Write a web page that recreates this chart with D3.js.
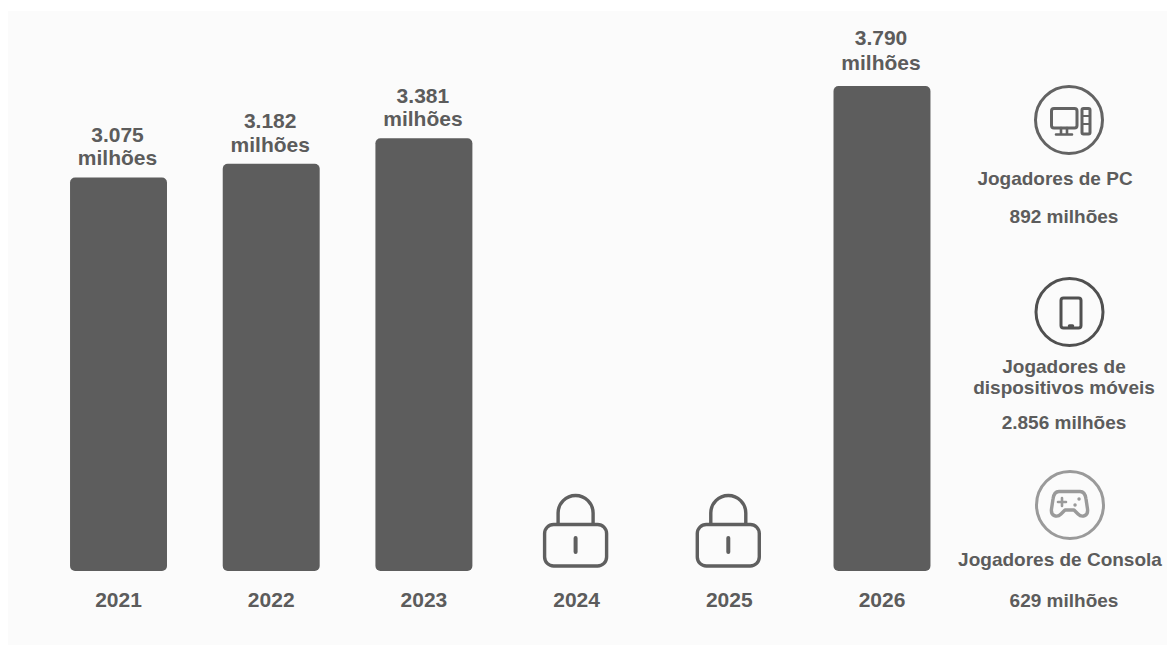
<!DOCTYPE html>
<html lang="pt">
<head>
<meta charset="utf-8">
<title>Jogadores</title>
<script src="https://cdn.jsdelivr.net/npm/d3@7"></script>
<style>
  html, body { margin: 0; padding: 0; background: #fff; }
  svg { display: block; }
  text { font-family: "Liberation Sans", Arial, sans-serif; font-weight: 700; fill: #5c5c5c; }
</style>
</head>
<body>
<svg id="chart" width="1167" height="649"></svg>
<script>
// Total de jogadores por ano (milhões); 2024 e 2025 estão bloqueados
const years = ["2021", "2022", "2023", "2024", "2025", "2026"];
const players = [3075, 3182, 3381, null, null, 3790];
const playerLabels = ["3.075", "3.182", "3.381", null, null, "3.790"];
const unitLabel = "milhões";

// Repartição por plataforma
const platformIcons = ["pc", "mobile", "console"];
const platformNames = [["Jogadores de PC"], ["Jogadores de", "dispositivos móveis"], ["Jogadores de Consola"]];
const platformValues = ["892 milhões", "2.856 milhões", "629 milhões"];

const width = 1167, height = 649, baseY = 571;
const barColor = "#5d5d5d";

const svg = d3.select("#chart");
svg.append("rect").attr("x", 8).attr("y", 11).attr("width", width - 8).attr("height", 634).attr("fill", "#fbfbfb");

const x = d3.scaleBand().domain(years).range([14.3, 986.2]).padding(0.365);
const y = d3.scaleLinear().domain([0, 3790]).range([baseY, 86]);

// Barras
const rows = years.map((year, i) => ({ year, value: players[i], label: playerLabels[i] }));
const known = rows.filter(d => d.value !== null);

svg.append("g").selectAll("rect").data(known).join("rect")
  .attr("x", d => x(d.year))
  .attr("y", d => y(d.value))
  .attr("width", x.bandwidth())
  .attr("height", d => baseY - y(d.value))
  .attr("rx", 5)
  .attr("fill", barColor);

// Rótulos de valor em duas linhas por cima das barras; o de 2026 fica mais afastado
const valueLabels = svg.append("g").attr("text-anchor", "middle").attr("font-size", 21)
  .selectAll("text").data(known).join("text")
  .attr("transform", d => `translate(${x(d.year) + x.bandwidth() / 2 - 1},${y(d.value) - (d.year === "2026" ? 41.5 : 35.5)})`);
valueLabels.append("tspan").attr("x", 0).text(d => d.label);
valueLabels.append("tspan").attr("x", 0).attr("dy", d => d.year === "2026" ? 25 : 23.5).text(unitLabel);

// Eixo dos anos
const axis = svg.append("g").attr("transform", `translate(0,${baseY})`)
  .call(d3.axisBottom(x).tickSize(0).tickPadding(21.5));
axis.select(".domain").remove();
axis.selectAll("text").attr("font-size", 21).attr("font-family", null);

// Cadeados nos anos sem dados
const lockYears = rows.filter(d => d.value === null);
const locks = svg.append("g").selectAll("g").data(lockYears).join("g")
  .attr("transform", d => `translate(${x(d.year) + x.bandwidth() / 2 - 1},0)`)
  .attr("fill", "none").attr("stroke", "#5f5f5f").attr("stroke-width", 3.4);
locks.append("rect").attr("x", -31).attr("y", 524.5).attr("width", 62).attr("height", 41.5).attr("rx", 9);
locks.append("path").attr("d", "M-17.5,524 V513 A17.5,17.5 0 0 1 17.5,513 V524");
locks.append("path").attr("d", "M0,538 V552").attr("stroke-linecap", "round").attr("stroke-width", 4);

// Painel lateral das plataformas
const iconX = [1069, 1069.5, 1070];
const iconY = [120, 312, 505];
const iconStroke = ["#636363", "#505050", "#9a9a9a"];
const icons = svg.append("g").selectAll("g").data(platformIcons).join("g")
  .attr("transform", (d, i) => `translate(${iconX[i]},${iconY[i]})`)
  .attr("fill", "none").attr("stroke-linecap", "round").attr("stroke-linejoin", "round")
  .attr("stroke", (d, i) => iconStroke[i]).attr("stroke-width", 3);
icons.append("circle").attr("r", 33.5);

const pc = icons.filter(d => d === "pc");
pc.append("rect").attr("x", -17.5).attr("y", -11.5).attr("width", 25.5).attr("height", 19.5).attr("rx", 2.5);
pc.append("path").attr("d", "M-8,8 V14 M-2,8 V14 M-13,14.5 H3").attr("stroke-width", 2.6);
pc.append("rect").attr("x", 13).attr("y", -11.5).attr("width", 8).attr("height", 25.5).attr("rx", 1.5);
pc.append("path").attr("d", "M14,-4 H20 M14,4 H20").attr("stroke-width", 2.2);

const mobile = icons.filter(d => d === "mobile");
mobile.append("rect").attr("x", -8.5).attr("y", -14).attr("width", 20).attr("height", 30).attr("rx", 2.5);
mobile.append("path").attr("d", "M0,14 H3").attr("stroke-width", 3.5);

const pad = icons.filter(d => d === "console");
pad.append("path")
  .attr("d", "M-11,-13.5 H10 C14,-13.5 15.5,-10 16,-6 L17.5,4 C18.5,11 12,13 8,9 L4,5 H-5 L-9,9 C-13,13 -19.5,11 -18.5,4 L-17,-6 C-16.5,-10 -15,-13.5 -11,-13.5 Z")
  .attr("stroke-width", 3.4);
pad.append("path").attr("d", "M-12,-3 H-4 M-8,-7 V1").attr("stroke-width", 2.6);
pad.append("path").attr("d", "M9,-6 H9.1 M5,0 H5.1").attr("stroke-width", 3.4);

// Nomes e totais por plataforma
const nameX = [1055, 1064, 1060];
const nameBaselines = [[185], [373, 394], [566]];
const valueBaselines = [223, 429, 607];
const labels = svg.append("g").attr("text-anchor", "middle").attr("font-size", 19);
platformNames.forEach((lines, i) => {
  lines.forEach((line, j) => {
    labels.append("text").attr("x", nameX[i]).attr("y", nameBaselines[i][j]).text(line);
  });
  labels.append("text").attr("x", 1064).attr("y", valueBaselines[i]).text(platformValues[i]);
});
</script>
</body>
</html>
